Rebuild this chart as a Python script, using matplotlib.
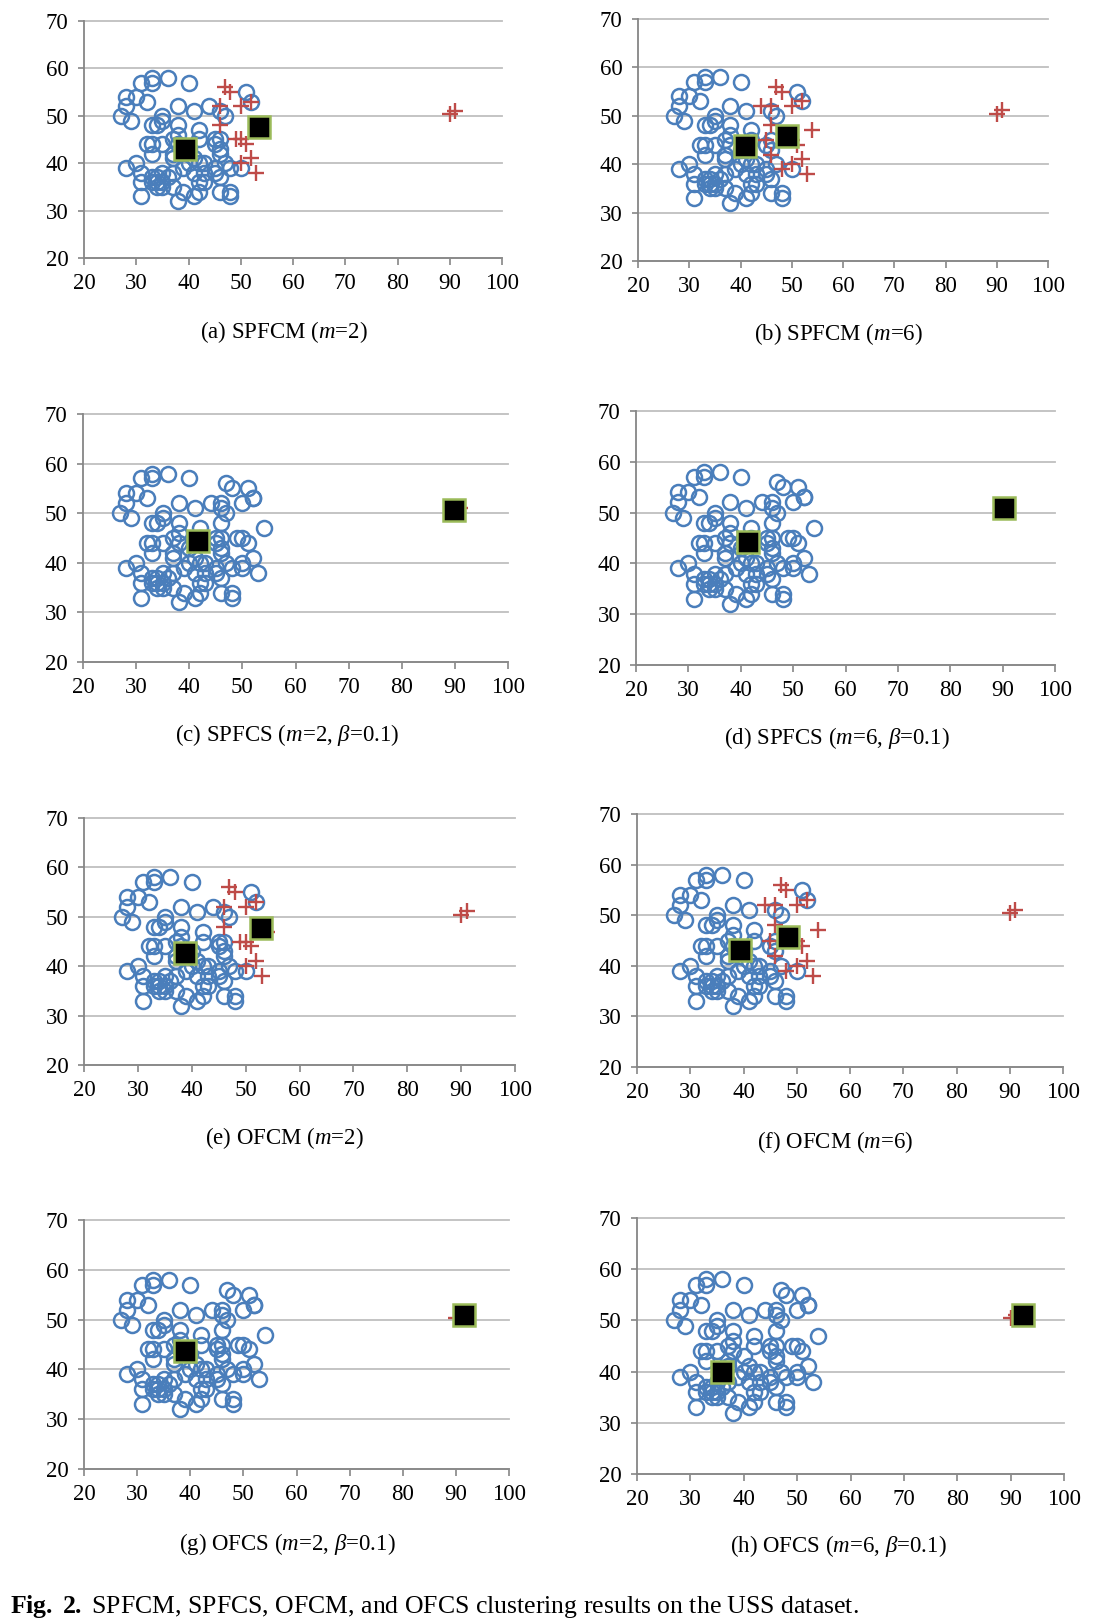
import matplotlib
matplotlib.use("Agg")
import matplotlib.pyplot as plt

plt.rcParams['font.family'] = ['Liberation Serif', 'DejaVu Serif']
plt.rcParams['mathtext.fontset'] = 'custom'
plt.rcParams['mathtext.rm'] = 'Liberation Serif'
plt.rcParams['mathtext.it'] = 'Liberation Serif:italic'
plt.rcParams['mathtext.bf'] = 'Liberation Serif:bold'

# USS dataset; last two are the outliers
x_pts = [27, 28, 28, 29, 30, 31, 32, 33, 33, 36, 40,
         33, 34, 35, 35,
         38, 38, 38, 37, 38, 37, 37, 35,
         32, 33, 33,
         41, 42, 41, 42, 40,
         44, 46, 46, 47, 46,
         45, 46, 45, 46, 46,
         49, 50, 51, 52, 50, 50, 53, 54,
         47, 48, 51, 52, 52, 50,
         28, 30, 31, 31, 31,
         33, 33, 34, 34, 35, 35, 35, 34, 36,
         37, 37, 38, 39, 39, 40, 41, 42, 43, 43, 42, 41, 42, 43,
         45, 45, 46, 46, 48, 48, 48, 47,
         90, 91]
y_pts = [50, 54, 52, 49, 54, 57, 53, 58, 57, 58, 57,
         48, 48, 50, 49,
         52, 48, 46, 45, 44, 42, 41, 44,
         44, 44, 42,
         51, 47, 41, 45, 43,
         52, 52, 51, 50, 48,
         45, 45, 44, 43, 42,
         45, 45, 44, 41, 40, 39, 38, 47,
         56, 55, 55, 53, 53, 52,
         39, 40, 38, 36, 33,
         37, 36, 35, 37, 38, 36, 35, 36, 37,
         38, 35, 32, 34, 39, 40, 38, 36, 36, 38, 34, 33, 40, 40,
         39, 38, 37, 34, 34, 33, 39, 40,
         50.4, 51.1]

# cluster flags (1 = "+" cluster)
grp_m2 = [0, 0, 0, 0, 0, 0, 0, 0, 0, 0, 0,
          0, 0, 0, 0,
          0, 0, 0, 0, 0, 0, 0, 0,
          0, 0, 0,
          0, 0, 0, 0, 0,
          0, 1, 0, 0, 1,
          0, 0, 0, 0, 0,
          1, 1, 1, 1, 1, 0, 1, 1,
          1, 1, 0, 0, 1, 1,
          0, 0, 0, 0, 0,
          0, 0, 0, 0, 0, 0, 0, 0, 0,
          0, 0, 0, 0, 0, 0, 0, 0, 0, 0, 0, 0, 0, 0,
          0, 0, 0, 0, 0, 0, 0, 0,
          1, 1]
grp_m6 = [0, 0, 0, 0, 0, 0, 0, 0, 0, 0, 0,
          0, 0, 0, 0,
          0, 0, 0, 0, 0, 0, 0, 0,
          0, 0, 0,
          0, 0, 0, 0, 0,
          1, 1, 0, 0, 1,
          1, 0, 0, 0, 1,
          1, 1, 1, 1, 1, 0, 1, 1,
          1, 1, 0, 0, 1, 1,
          0, 0, 0, 0, 0,
          0, 0, 0, 0, 0, 0, 0, 0, 0,
          0, 0, 0, 0, 0, 0, 0, 0, 0, 0, 0, 0, 0, 0,
          0, 0, 0, 0, 0, 0, 1, 0,
          1, 1]
grp_out = [0] * (len(x_pts) - 2) + [1, 1]

captions = [r'(a) SPFCM ($m$=2)', r'(b) SPFCM ($m$=6)',
            r'(c) SPFCS ($m$=2, $\beta$=0.1)', r'(d) SPFCS ($m$=6, $\beta$=0.1)',
            r'(e) OFCM ($m$=2)', r'(f) OFCM ($m$=6)',
            r'(g) OFCS ($m$=2, $\beta$=0.1)', r'(h) OFCS ($m$=6, $\beta$=0.1)']
groups = [grp_m2, grp_m6, grp_out, grp_out, grp_m2, grp_m6, grp_out, grp_out]
cent_x = [[39.4, 53.4], [40.8, 49.1], [41.6, 89.8], [41.3, 90.2],
          [38.7, 52.9], [39.4, 48.4], [39.1, 91.5], [35.9, 92.3]]
cent_y = [[43.0, 47.7], [43.7, 45.8], [44.4, 50.6], [44.2, 50.9],
          [42.6, 47.7], [43.2, 45.7], [43.6, 50.9], [40.0, 51.0]]

# axes boxes in pixels: left, top, right, bottom
boxes = [(84, 21, 502, 258), (638, 19, 1048, 261),
         (83, 414, 508, 662), (636, 411, 1055, 665),
         (84, 818, 515, 1065), (637, 814, 1063, 1067),
         (84, 1220, 509, 1469), (637, 1218, 1064, 1474)]
cap_pos = [(284, 332), (838, 334), (287, 735), (837, 738),
           (284, 1138), (835, 1142), (287, 1544), (838, 1546)]

W, H = 1100, 1622
fig = plt.figure(figsize=(W / 100, H / 100), dpi=100)

for i in range(8):
    l, t, r, b = boxes[i]
    ax = fig.add_axes([l / W, 1 - b / H, (r - l) / W, (b - t) / H])
    g = groups[i]
    cx = [x for x, k in zip(x_pts, g) if k == 0]
    cy = [y for y, k in zip(y_pts, g) if k == 0]
    px = [x for x, k in zip(x_pts, g) if k == 1]
    py = [y for y, k in zip(y_pts, g) if k == 1]
    ax.plot(cx, cy, 'o', ms=10.8, mfc='none', mec='#4a7ebb', mew=1.8, zorder=3)
    ax.plot(px, py, '+', ms=11, mec='#be4b48', mew=1.7, zorder=4)
    ax.plot(cent_x[i], cent_y[i], 's', ms=15.5, mfc='black', mec='#9bbb59',
            mew=1.8, zorder=5)
    ax.set_xlim(20, 100)
    ax.set_ylim(20, 70)
    ax.set_xticks(range(20, 101, 10))
    ax.set_yticks(range(20, 71, 10))
    ax.yaxis.grid(True, color='#bfbfbf', lw=1.3)
    ax.set_axisbelow(True)
    for gl in ax.get_ygridlines():
        gl.set_clip_on(False)
    ax.spines['top'].set_visible(False)
    ax.spines['right'].set_visible(False)
    ax.spines['left'].set_color('#868686')
    ax.spines['bottom'].set_color('#868686')
    ax.spines['left'].set_linewidth(1.3)
    ax.spines['bottom'].set_linewidth(1.3)
    ax.tick_params(axis='x', direction='out', length=5, width=1.2,
                   color='#868686', labelsize=16.5, pad=6)
    ax.tick_params(axis='y', direction='out', length=4, width=1.2,
                   color='#868686', labelsize=16.5, pad=7)
    fig.text(cap_pos[i][0] / W, 1 - cap_pos[i][1] / H, captions[i],
             ha='center', va='center', fontsize=16.5)

fig.text(10 / W, 1 - 1606 / H,
         r'$\mathbf{Fig.\ 2.}$SPFCM, SPFCS, OFCM, and OFCS clustering results on the USS dataset.'.replace('$SPFCM', '$ SPFCM'),
         ha='left', va='center', fontsize=18.5)

fig.savefig('out.png', dpi=100)
